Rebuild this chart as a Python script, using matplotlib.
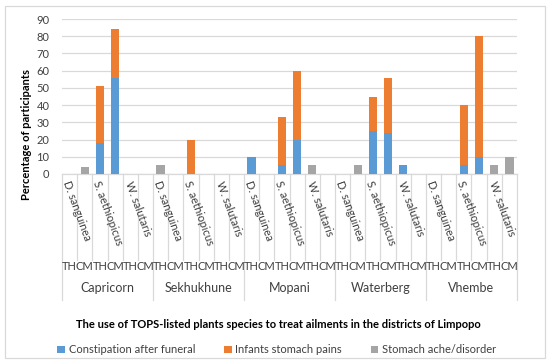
import matplotlib
matplotlib.use("Agg")
import matplotlib.pyplot as plt
from matplotlib.patches import Patch, Rectangle

plt.rcParams['font.family'] = ['Lato', 'DejaVu Sans']

districts = ['Capricorn', 'Sekhukhune', 'Mopani', 'Waterberg', 'Vhembe']
species = ['D. sanguinea', 'S. aethiopicus', 'W. salutaris']
measures = ['TH', 'CM']

# one value per (district, species, measure), in that order
constipation = [0, 0, 18, 56, 0, 0,
                0, 0, 0, 0, 0, 0,
                10, 0, 5, 20, 0, 0,
                0, 0, 25, 24, 5, 0,
                0, 0, 5, 10, 0, 0]
infants = [0, 0, 33, 28, 0, 0,
           0, 0, 20, 0, 0, 0,
           0, 0, 28, 40, 0, 0,
           0, 0, 20, 32, 0, 0,
           0, 0, 35, 70, 0, 0]
stomach = [0, 4, 0, 0, 0, 0,
           5, 0, 0, 0, 0, 0,
           0, 0, 0, 0, 5, 0,
           0, 5, 0, 0, 0, 0,
           0, 0, 0, 0, 5, 10]

series_names = ['Constipation after funeral', 'Infants stomach pains', 'Stomach ache/disorder']
colors = ['#5B9BD5', '#ED7D31', '#A5A5A5']
grid_col = '#D9D9D9'
text_col = '#404040'

fig = plt.figure(figsize=(5.5, 3.63), dpi=100)
ax = fig.add_axes([62 / 550, 1 - 174 / 363, 455 / 550, 155 / 363])

n = len(constipation)
x = list(range(n))
w = 0.56
ax.bar(x, constipation, width=w, color=colors[0], zorder=3)
ax.bar(x, infants, width=w, bottom=constipation, color=colors[1], zorder=3)
ax.bar(x, stomach, width=w, color=colors[2], zorder=3)

ax.set_xlim(-0.5, n - 0.5)
ax.set_ylim(0, 90)
ax.set_yticks(range(0, 91, 10))
ax.tick_params(axis='y', length=0, pad=9, labelsize=8, labelcolor=text_col)
ax.set_xticks([])
ax.yaxis.grid(True, color=grid_col, linewidth=0.9, zorder=0)
for s in ['left', 'right', 'top']:
    ax.spines[s].set_visible(False)
ax.spines['bottom'].set_color(grid_col)
ax.spines['bottom'].set_linewidth(0.9)

# multi-level category axis drawn below the plot
tr = ax.get_xaxis_transform()
for k in range(n + 1):
    bound = k - 0.5
    low = -0.813 if k % 6 == 0 else -0.555
    ax.plot([bound, bound], [0, low], transform=tr, color=grid_col,
            linewidth=0.9, clip_on=False)

for d, dname in enumerate(districts):
    for s, sname in enumerate(species):
        pos = d * 6 + s * 2 + 0.5
        ax.text(pos, -0.035, sname, transform=tr, rotation=-70, ha='center',
                va='top', fontsize=8, color=text_col)
        for m, mname in enumerate(measures):
            ax.text(d * 6 + s * 2 + m, -0.60, mname, transform=tr, ha='center',
                    va='center', fontsize=8, color=text_col)
    ax.text(d * 6 + 2.5, -0.735, dname, transform=tr, ha='center',
            va='center', fontsize=9, color=text_col)

fig.text(27 / 550, 1 - 135 / 363, 'Percentage of participants', rotation=90,
         ha='center', va='center', fontsize=8, fontweight='bold', color='black')
fig.text(0.507, 0.105, 'The use of TOPS-listed plants species to treat ailments in the districts of Limpopo',
         ha='center', va='center', fontsize=8, fontweight='bold', color='black')

handles = [Patch(facecolor=c, edgecolor='none') for c in colors]
fig.legend(handles, series_names, loc='center', bbox_to_anchor=(0.503, 0.036),
           ncol=3, frameon=False, fontsize=8, handlelength=0.7, handleheight=0.7,
           handletextpad=0.3, columnspacing=2.6, labelcolor=text_col)

fig.patches.append(Rectangle((5 / 550, 5 / 363), 540 / 550, 352 / 363, transform=fig.transFigure,
                             fill=False, edgecolor=grid_col, linewidth=0.9))

fig.savefig('out.png', dpi=100)
